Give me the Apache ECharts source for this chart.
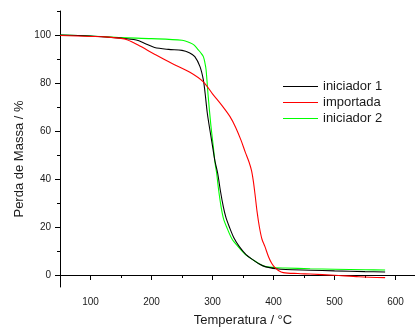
<!DOCTYPE html>
<html><head><meta charset="utf-8">
<script src="https://cdn.jsdelivr.net/npm/echarts@6/dist/echarts.min.js"></script>
<style>html,body{margin:0;padding:0;overflow:hidden;background:#fff;width:415px;height:327px}#c{width:427px;height:327px}</style>
</head><body><div id="c"></div>
<script>
const seriesNames = ['iniciador 1', 'importada', 'iniciador 2'];
const xMajorTicks = [100, 200, 300, 400, 500, 600];
const xMinorTicks = [50, 150, 250, 350, 450, 550, 650];
const yMajorTicks = [0, 20, 40, 60, 80, 100];
const yMinorTicks = [10, 30, 50, 70, 90, 110];

const tIni1 = [50,100,150,175,190,205,228,250,262,271,279.5,285,288,291.5,296,300.5,304,308.5,313,317.7,322,327.5,335,344,355,367,376,386,405,420,460,500,550,583];
const vIni1 = [100,99.6,98.7,97.9,96.4,94.8,94.0,93.6,92.6,91,86.8,81.3,75.5,67.4,60,53,47.5,42.4,35,28.5,24,20.1,15.5,11.8,8.5,6.2,4.7,3.5,2.6,2.3,2.0,1.7,1.4,1.25];

const tImp = [50,100,124,150,160,178,205,233,263,285,300,315,328.7,338,346.7,354,360,364,367,370,373,376.8,381,386,392,397,402,408,416,440,460,500,540,583];
const vImp = [99.8,99.4,99.2,98.6,98,95.8,92,88.2,84.5,80.5,75.5,70.8,66,61.5,56.2,51,47,43.5,39,33,26.5,20.1,15,11.8,7.5,4.9,3.2,1.9,1.0,0.6,0.4,-0.1,-0.7,-1.1];

const tIni2 = [50,100,151,200,250,263,270,276.7,281,285,287.5,289.5,293,297,301.3,304,306.8,310,314,318,323,332,342,354,367,377,386,405,420,460,500,550,583];
const vIni2 = [100,99.6,98.9,98.5,97.8,96.8,95.8,93.8,92.5,91,88.5,85.4,74.3,63.2,53.5,47,42.4,35.5,28.5,23.5,20.1,15,11.8,8.5,6.2,4.6,3.6,3.0,2.9,2.6,2.4,2.2,2.1];

const colors = ['#000000', '#ff0000', '#00ff00'];
const zip = (t, v) => t.map((x, i) => [x, v[i]]);
const datasets = [zip(tIni1, vIni1), zip(tImp, vImp), zip(tIni2, vIni2)];

const chart = echarts.init(document.getElementById('c'), null, {renderer: 'canvas'});
const txt = '#1a1a1a';
chart.setOption({
  animation: false,
  textStyle: {fontFamily: 'Liberation Sans, Arial, sans-serif'},
  grid: {left: 60, right: 1, top: 11, bottom: 40, outerBoundsMode: 'none', containLabel: false},
  legend: {
    orient: 'vertical', left: 278, top: 75, itemGap: 3,
    itemWidth: 35, itemHeight: 1.2, icon: 'rect',
    textStyle: {fontSize: 13, color: txt, fontFamily: 'Liberation Sans, Arial, sans-serif'},
    data: seriesNames
  },
  xAxis: [{
    type: 'value', min: 50, max: 650, interval: 50,
    name: 'Temperatura / °C', nameLocation: 'middle', nameGap: 27,
    nameTextStyle: {fontSize: 13, color: txt},
    axisLine: {lineStyle: {color: '#000', width: 1}},
    axisTick: {length: 5, customValues: xMajorTicks, lineStyle: {color: '#000'}},
    axisLabel: {customValues: xMajorTicks, fontSize: 10, color: txt, margin: 10},
    splitLine: {show: false}
  }, {
    type: 'value', min: 50, max: 650, interval: 50, position: 'bottom',
    axisLine: {show: false},
    axisTick: {length: 3, customValues: xMinorTicks, lineStyle: {color: '#000'}},
    axisLabel: {show: false}, splitLine: {show: false}
  }],
  yAxis: [{
    type: 'value', min: -5, max: 110, interval: 5,
    axisLine: {show: true, lineStyle: {color: '#000', width: 1}},
    axisTick: {show: true, length: 5, customValues: yMajorTicks, lineStyle: {color: '#000'}},
    axisLabel: {customValues: yMajorTicks, fontSize: 10, color: txt, margin: 9},
    splitLine: {show: false}
  }, {
    type: 'value', min: -5, max: 110, interval: 5, position: 'left',
    axisLine: {show: false},
    axisTick: {show: true, length: 3, customValues: yMinorTicks, lineStyle: {color: '#000'}},
    axisLabel: {show: false}, splitLine: {show: false}
  }],
  graphic: [{
    type: 'text', x: 19, y: 159, rotation: Math.PI / 2,
    style: {text: 'Perda de Massa / %', fontSize: 13, fill: txt, align: 'center', verticalAlign: 'middle', fontFamily: 'Liberation Sans, Arial, sans-serif'}
  }],
  series: seriesNames.map((n, i) => ({
    name: n, type: 'line', data: datasets[i], symbol: 'none',
    smooth: 0.3,
    lineStyle: {color: colors[i], width: 1.1}, itemStyle: {color: colors[i]},
    z: i === 1 ? 3 : (i === 0 ? 2 : 1)
  }))
});
</script></body></html>
